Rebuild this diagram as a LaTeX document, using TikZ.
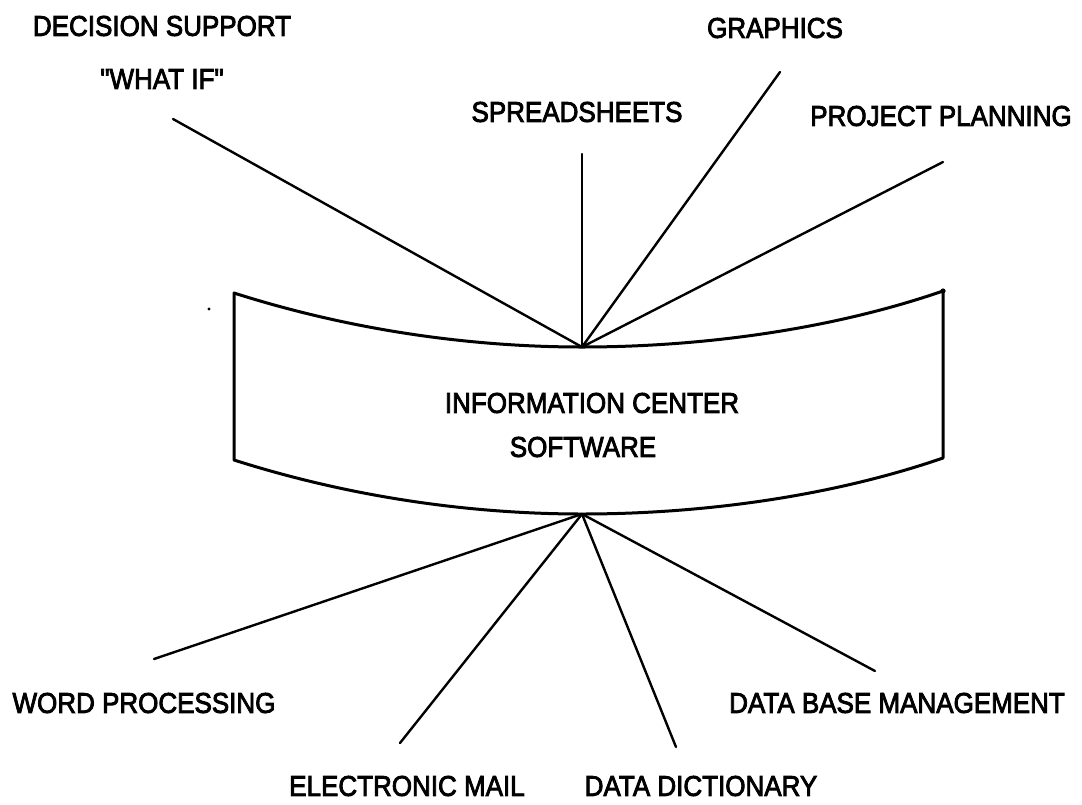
\documentclass[tikz,border=0pt]{standalone}
\usepackage{graphicx}
\usepackage{fontspec}
\setmainfont{Liberation Sans}
\newfontfamily\labfont{Liberation Sans}[FakeBold=3]
\newcommand{\tallcaps}[1]{\scalebox{1}[1.1]{#1}}
\begin{document}
\begin{tikzpicture}[x=1pt,y=-1pt,
 lab/.style={font=\labfont\fontsize{26}{30}\selectfont,inner sep=0pt,align=center,text=black},
 ray/.style={line width=2.4pt,black,line cap=round},
 band/.style={line width=3pt,black,line join=round}]
\useasboundingbox (0,0) rectangle (1082,804);
\fill[white] (0,0) rectangle (1082,804);
\coordinate (top) at (582,347);
\coordinate (bot) at (582,514);
\coordinate (tl) at (234,293);
\coordinate (tr) at (943,291);
\coordinate (bl) at (234,460);
\coordinate (br) at (943,458);
\draw[band] (tl) .. controls (350,330) and (470,347) .. (top) .. controls (700,347) and (830,330) .. (tr) -- (br)
  .. controls (830,497) and (700,514) .. (bot) .. controls (470,514) and (350,497) .. (bl) -- cycle;
\fill (tr) circle (2.6);
\node[lab] at (592,403) (c1) {\tallcaps{INFORMATION CENTER}};
\node[lab] at (583,447) (c2) {\tallcaps{SOFTWARE}};
\node[lab] (ds) at (162,26) {\tallcaps{DECISION SUPPORT}};
\node[lab] (wi) at (162,79) {\tallcaps{\char34 WHAT IF\char34}};
\node[lab] (ss) at (577,112) {\tallcaps{SPREADSHEETS}};
\node[lab] (gr) at (775,28) {\tallcaps{GRAPHICS}};
\node[lab] (pp) at (941,116) {\tallcaps{PROJECT PLANNING}};
\node[lab] (wp) at (144,703) {\tallcaps{WORD PROCESSING}};
\node[lab] (em) at (407,786) {\tallcaps{ELECTRONIC MAIL}};
\node[lab] (dd) at (701,786) {\tallcaps{DATA DICTIONARY}};
\node[lab] (db) at (897,703) {\tallcaps{DATA BASE MANAGEMENT}};
\fill (209,309) circle (1.6);
\coordinate (e1) at (173,119);
\coordinate (e2) at (582,154);
\coordinate (e3) at (780,72);
\coordinate (e4) at (943,162);
\coordinate (e5) at (154,659);
\coordinate (e6) at (400,743);
\coordinate (e7) at (676,747);
\coordinate (e8) at (875,671);
\foreach \e in {e1,e2,e3,e4} \draw[ray] (top) -- (\e);
\foreach \e in {e5,e6,e7,e8} \draw[ray] (bot) -- (\e);
\end{tikzpicture}
\end{document}
